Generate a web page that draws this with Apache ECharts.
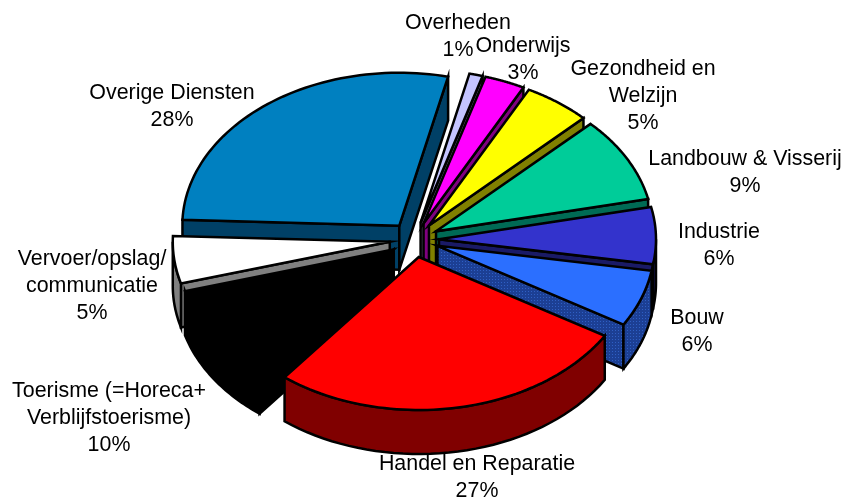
<!DOCTYPE html>
<html>
<head>
<meta charset="utf-8">
<style>html,body{margin:0;padding:0;background:#fff}#c{width:843px;height:502px}</style>
<script src="https://cdn.jsdelivr.net/npm/echarts@6/dist/echarts.min.js"></script>
</head>
<body>
<div id="c"></div>
<script>
// Data, clockwise starting at the top of the pie
const categories = ['Overheden','Onderwijs','Gezondheid en\nWelzijn','Landbouw & Visserij','Industrie','Bouw','Handel en Reparatie','Toerisme (=Horeca+\nVerblijfstoerisme)','Vervoer/opslag/\ncommunicatie','Overige Diensten'];
const values = [1,3,5,9,6,6,27,10,5,28];

// Styles and layout (separate from the data)
const topColors = ['#c4c4ff','#ff00ff','#ffff00','#00cc99','#3333cc','#2b6fff','#ff0000','#000000','#ffffff','#0080c0'];
const sideColors = ['#62627f','#800080','#808000','#006b55','#1a1a66','pattern','#800000','#000000','#808080','#004066'];
const paintOrder = [0,1,2,3,4,5,9,8,7,6]; // far to near
const labelCenters = [[458,37],[523,60],[643,96],[745,173],[719,246],[697,332],[477,478],[109,418],[92,286],[172,107]];
const CX = 414.3, CY = 239.7, RX = 217, RY = 153, DEPTH = 44, EX = 24.7, EY = 17.6, START = 13;

function hatch() {
  const c = document.createElement('canvas');
  c.width = c.height = 3;
  const g = c.getContext('2d');
  g.fillStyle = '#1c3f94'; g.fillRect(0,0,3,3);
  g.fillStyle = '#2f5fc4'; g.fillRect(0,0,1,1);
  return {image:c, repeat:'repeat'};
}
const hatchFill = hatch();

const total = values.reduce((s,v)=>s+v,0);
let acc = 0;
const spans = values.map(v => { const a = START + acc/total*360; acc += v; return [a, START + acc/total*360]; });

function renderItem(params, api) {
  const i = api.value(0);
  const [t0, t1] = spans[i];
  const rad = d => d*Math.PI/180;
  const mid = rad((t0+t1)/2);
  const ax = CX + EX*Math.sin(mid), ay = CY - EY*Math.cos(mid);
  const P = d => [ax + RX*Math.sin(rad(d)), ay - RY*Math.cos(rad(d))];
  const down = p => [p[0], p[1]+DEPTH];
  const side = sideColors[i]==='pattern' ? hatchFill : sideColors[i];
  const lw = 2.5;
  const poly = (pts, fill) => ({type:'polygon', shape:{points:pts}, style:{fill:fill, stroke:'#000', lineWidth:lw, lineJoin:'miter'}});
  const kids = [];
  const dirM = [Math.sin(mid)*RX, -Math.cos(mid)*RY];
  [t0,t1].forEach(t => {
    const p = P(t);
    const v = [p[0]-ax, p[1]-ay];
    let n = [-v[1], v[0]];
    if (n[1] < 0) n = [-n[0], -n[1]];
    if (n[0]*dirM[0]+n[1]*dirM[1] < 0) {
      kids.push(poly([[ax,ay],p,down(p),[ax,ay+DEPTH]], side));
    }
  });
  const w0 = Math.max(t0,90), w1 = Math.min(t1,270);
  if (w1 > w0) {
    const arc = [];
    for (let d=w0; d<=w1+1e-6; d+=(w1-w0)/40) arc.push(P(d));
    kids.push(poly(arc.concat(arc.slice().reverse().map(down)), side));
  }
  const top = [[ax,ay]];
  for (let d=t0; d<=t1+1e-6; d+=(t1-t0)/60) top.push(P(d));
  kids.push(poly(top, topColors[i]));
  return {type:'group', children:kids};
}

function renderLabel(params, api) {
  const i = api.value(0);
  const [x,y] = labelCenters[i];
  return {type:'text', x:x, y:y, z2:100, style:{
    text: categories[i] + '\n' + values[i] + '%',
    fill:'#000', align:'center', verticalAlign:'middle',
    font:'21.4px "Liberation Sans", Arial, sans-serif', lineHeight:27
  }};
}

const chart = echarts.init(document.getElementById('c'), null, {renderer:'canvas'});
chart.setOption({
  animation:false,
  backgroundColor:'#fff',
  series:[
    {type:'custom', coordinateSystem:'none', silent:true, renderItem:renderItem,
     data: paintOrder.map(i => [i, values[i]])},
    {type:'custom', coordinateSystem:'none', silent:true, renderItem:renderLabel, z:5,
     data: categories.map((c,i) => [i, values[i]])}
  ]
});
</script>
</body>
</html>
